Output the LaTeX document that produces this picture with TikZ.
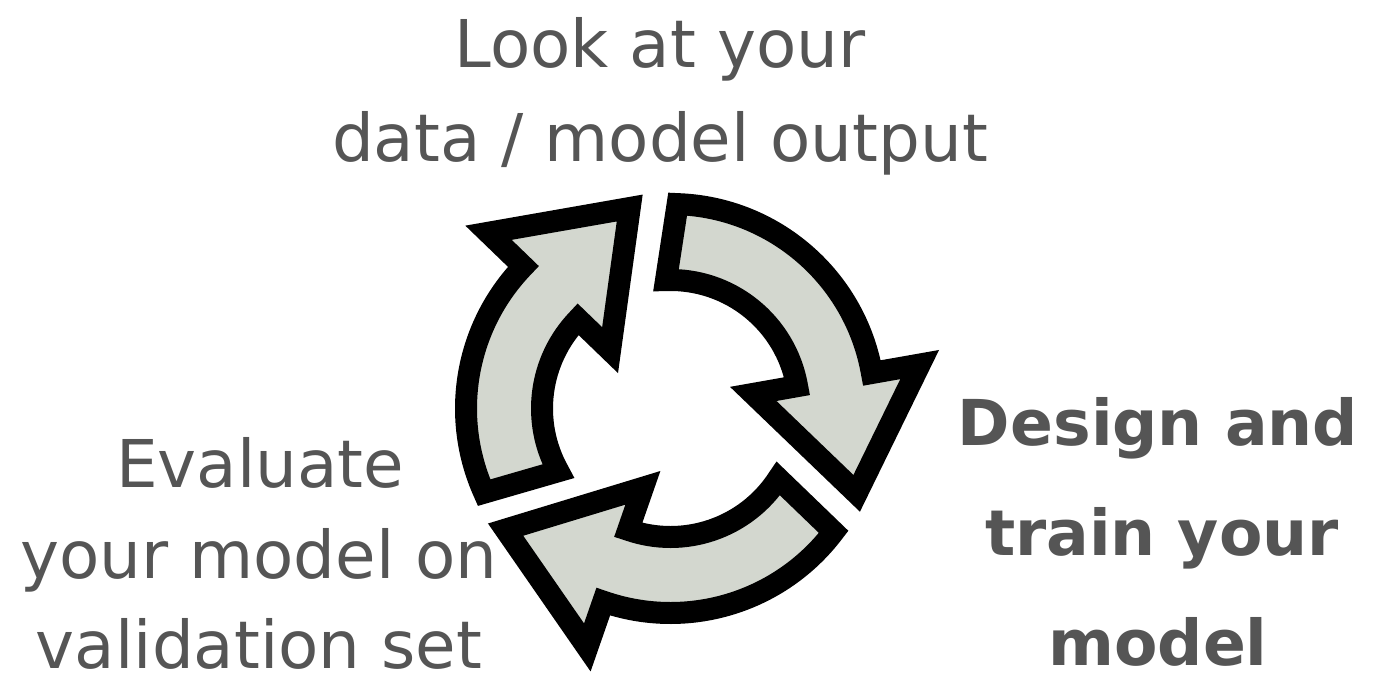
\documentclass[tikz,border=0pt]{standalone}
\usepackage{fontspec}
\setmainfont{DejaVu Sans}
\definecolor{txt}{RGB}{85,85,85}
\definecolor{arrowfill}{HTML}{D3D7CF}
\begin{document}
\begin{tikzpicture}[x=0.02cm,y=0.02cm,
  cyc/.style={draw=black, fill=arrowfill, line width=0.44cm, line join=miter, miter limit=10},
  lbl/.style={text=txt, font=\fontsize{37.5}{45}\selectfont, anchor=base, inner sep=0pt},
  lblb/.style={text=txt, font=\fontsize{36}{45}\selectfont\bfseries, anchor=base, inner sep=0pt}]
\useasboundingbox (0,0) rectangle (1378,-685);
\coordinate (O) at (670.5,-408.5);
\begin{scope}[shift={(O)}]
  % arrow A (top -> right)
  \draw[cyc] (88:204.5) arc[start angle=88, end angle=10, radius=204.5]
    -- (10:253) -- (-24.5:204.6) -- (10:84) -- (10:128.5)
    arc[start angle=10, end angle=92, radius=128.5] -- cycle;
  % arrow B (bottom-left -> top)
  \draw[cyc] (204.3:204.5) arc[start angle=204.3, end angle=136, radius=204.5]
    -- (136:253) -- (101.5:204.6) -- (136:84) -- (136:128.5)
    arc[start angle=136, end angle=209.2, radius=128.5] -- cycle;
  % arrow C (right -> bottom-left)
  \draw[cyc] (322.9:204.5) arc[start angle=322.9, end angle=250.8, radius=204.5]
    -- (250.8:253) -- (216.3:204.6) -- (250.8:84) -- (250.8:128.5)
    arc[start angle=250.8, end angle=327, radius=128.5] -- cycle;
\end{scope}
% top label
\node[lbl] (t1) at (660,-68) {Look at your};
\node[lbl] (t2) at (660,-162) {data / model output};
% left label
\node[lbl] (e1) at (260,-487) {Evaluate};
\node[lbl] (e2) at (259,-578) {your model on};
\node[lbl] (e3) at (259,-668) {validation set};
% right label
\node[lblb] (d1) at (1158,-445) {Design and};
\node[lblb] (d2) at (1162,-555) {train your};
\node[lblb] (d3) at (1158,-665) {model};
\end{tikzpicture}
\end{document}
